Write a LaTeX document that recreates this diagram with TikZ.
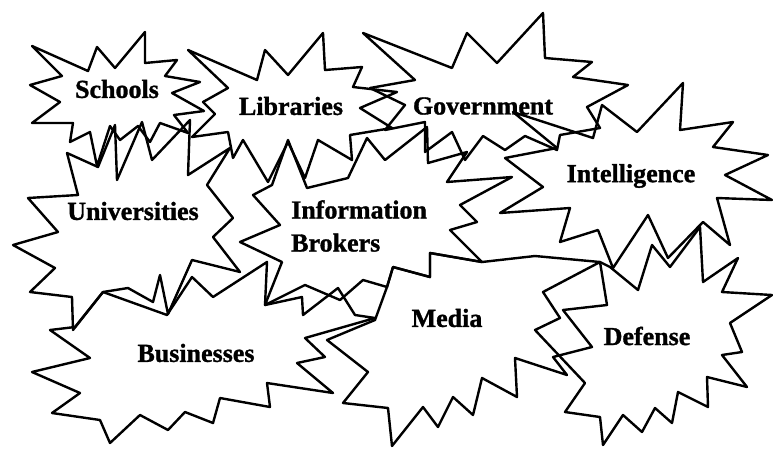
\documentclass[tikz,border=0pt]{standalone}
\usepackage{fontspec}
\setmainfont{Liberation Serif}
\newfontfamily\lblfont{Liberation Serif}[BoldFeatures={FakeBold=1.2}]
\begin{document}
\begin{tikzpicture}[x=1pt,y=-1pt,
  burst/.style={draw=black,line width=2.4pt,line join=round},
  label/.style={font=\lblfont\fontsize{26}{33}\selectfont\bfseries,inner sep=0pt}]
\useasboundingbox[fill=white] (0,0) rectangle (773,448);

% Schools
\draw[burst] (32,46)--(88,71)--(97,47)--(115,68)--(145,32)--(145,63)--(177,60)--(165,76)--(200,82)--(172,93)--(204,111)--(174,115)--(188,133)--(160,123)--(150,142)--(138,126)--(120,140)--(110,126)--(97,166)--(90,132)--(70,142)--(73,123)--(32,123)--(60,102)--(30,85)--(62,76)--cycle;
% Libraries
\draw[burst] (188,50)--(257,80)--(265,50)--(288,75)--(323,33)--(325,70)--(362,67)--(353,87)--(397,92)--(360,108)--(392,128)--(350,135)--(352,160)--(318,140)--(305,178)--(288,142)--(268,182)--(243,140)--(233,158)--(228,132)--(192,137)--(215,114)--(203,102)--(228,88)--cycle;
% Government
\draw[burst] (363,33)--(452,68)--(467,33)--(497,63)--(543,13)--(545,58)--(592,62)--(573,77)--(628,85)--(587,107)--(600,128)--(560,135)--(557,150)--(525,136)--(505,150)--(483,136)--(465,160)--(452,132)--(425,152)--(425,122)--(385,130)--(405,105)--(370,88)--(415,80)--cycle;
% Intelligence
\draw[burst] (513,112)--(593,138)--(602,105)--(637,132)--(683,83)--(680,130)--(733,122)--(713,147)--(768,155)--(725,175)--(772,200)--(717,198)--(730,245)--(703,222)--(668,258)--(648,215)--(613,268)--(598,230)--(560,242)--(570,208)--(500,213)--(543,187)--(505,158)--(557,148)--cycle;
% Universities
\draw[burst] (67,153)--(98,167)--(115,125)--(117,180)--(142,122)--(152,160)--(190,120)--(188,175)--(230,148)--(207,185)--(233,218)--(213,237)--(240,272)--(192,260)--(168,314)--(160,275)--(153,302)--(128,288)--(103,292)--(73,330)--(72,297)--(30,292)--(55,268)--(13,245)--(58,232)--(28,198)--(78,195)--cycle;
% Information Brokers
\draw[burst] (288,140)--(307,188)--(348,178)--(367,138)--(385,160)--(427,127)--(428,163)--(467,152)--(447,182)--(512,177)--(460,205)--(477,222)--(450,230)--(482,262)--(430,253)--(430,277)--(393,267)--(387,287)--(363,280)--(340,300)--(305,285)--(265,305)--(282,262)--(240,242)--(280,225)--(253,195)--(272,185)--cycle;
% Businesses
\draw[burst] (50,330)--(75,327)--(103,292)--(167,315)--(192,277)--(213,297)--(267,262)--(265,305)--(302,297)--(303,315)--(338,288)--(355,315)--(375,318)--(305,338)--(325,357)--(297,363)--(333,393)--(267,383)--(270,407)--(220,398)--(213,423)--(185,412)--(168,430)--(140,415)--(110,443)--(100,420)--(52,413)--(80,393)--(32,372)--(90,358)--cycle;
% Media
\draw[burst] (375,320)--(327,340)--(368,372)--(343,403)--(388,408)--(392,446)--(423,407)--(438,427)--(453,397)--(473,415)--(482,378)--(517,397)--(515,358)--(567,375)--(553,357)--(592,347)--(563,310)--(607,305)--(600,262)--(535,256)--(482,262)--(430,253)--(430,277)--(393,267)--(387,287)--cycle;
% Defense
\draw[burst] (600,262)--(543,292)--(560,318)--(535,330)--(585,383)--(565,412)--(600,417)--(603,445)--(623,415)--(642,432)--(655,408)--(672,423)--(678,392)--(708,407)--(707,377)--(747,387)--(722,355)--(742,352)--(730,323)--(772,295)--(722,292)--(738,258)--(703,282)--(700,227)--(670,267)--(652,245)--(638,290)--(610,267)--cycle;

\node[label] (schools) at (117,89) {Schools};
\node[label] (libraries) at (291,106) {Libraries};
\node[label] (government) at (483,106) {Government};
\node[label] (intelligence) at (631,176) {Intelligence};
\node[label] (universities) at (133,211) {Universities};
\node[label,align=left,anchor=west] (brokers) at (291,226) {Information\\Brokers};
\node[label] (media) at (447,318) {Media};
\node[label] (businesses) at (196,353) {Businesses};
\node[label] (defense) at (647,336) {Defense};
\end{tikzpicture}
\end{document}
